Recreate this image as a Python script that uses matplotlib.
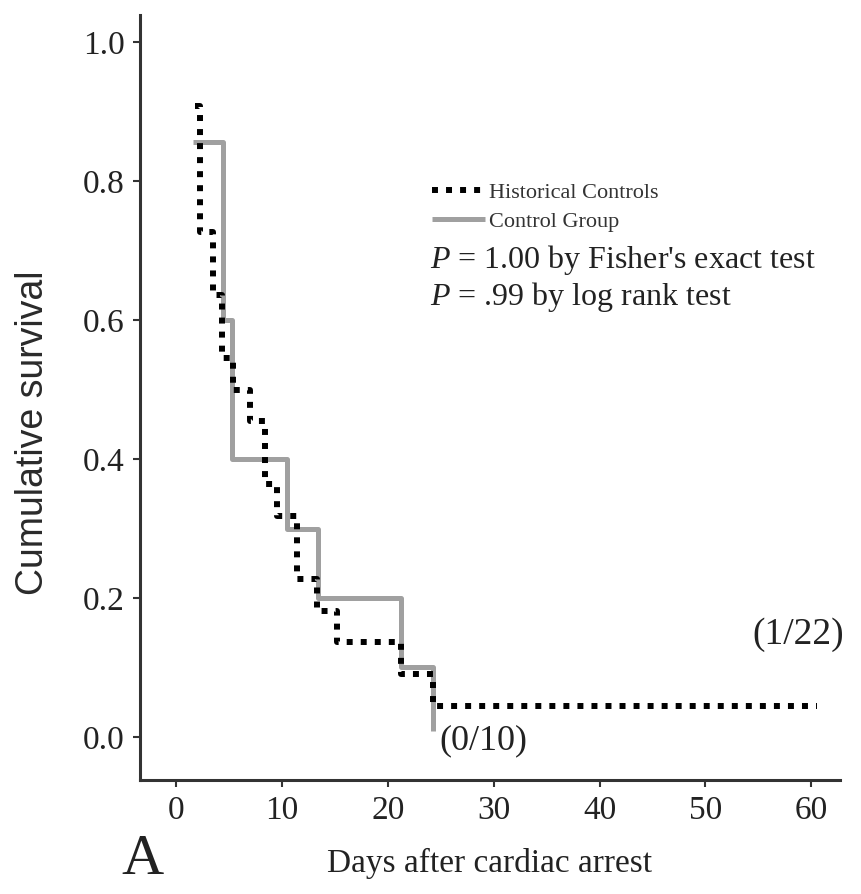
import matplotlib
matplotlib.use("Agg")
import matplotlib.pyplot as plt

# Data
hist_days = [1.8, 2.3, 3.5, 4.3, 5.4, 7.0, 8.4, 9.5, 11.4, 13.3, 15.2, 21.2, 24.3, 60.5]
hist_surv = [0.909, 0.727, 0.636, 0.545, 0.500, 0.455, 0.364, 0.318, 0.227, 0.182, 0.136, 0.091, 0.045, 0.045]

ctrl_days = [1.6, 4.4, 5.3, 10.45, 13.4, 21.2, 24.3]
ctrl_surv = [0.857, 0.600, 0.400, 0.300, 0.200, 0.100, 0.008]

x_ticks = [0, 10, 20, 30, 40, 50, 60]
y_ticks = [0.0, 0.2, 0.4, 0.6, 0.8, 1.0]
y_tick_labels = ["0.0", "0.2", "0.4", "0.6", "0.8", "1.0"]

series_labels = ["Historical Controls", "Control Group"]
p_texts = [r"$P$ = 1.00 by Fisher's exact test", r"$P$ = .99 by log rank test"]
end_labels = ["(1/22)", "(0/10)"]

plt.rcParams['font.family'] = ['Liberation Serif', 'DejaVu Serif']
plt.rcParams['mathtext.fontset'] = 'custom'
plt.rcParams['mathtext.it'] = 'Liberation Serif:italic'
plt.rcParams['mathtext.rm'] = 'Liberation Serif'

fig = plt.figure(figsize=(8.61, 8.94), dpi=100)
ax = fig.add_axes([0.1626, 0.1275, 0.8130, 0.8555])

grey = '#a0a0a0'
l_ctrl, = ax.step(ctrl_days, ctrl_surv, where='post', color=grey, lw=3.6,
                  solid_capstyle='butt', zorder=2)
l_hist, = ax.step(hist_days, hist_surv, where='post', color='black', lw=4.3,
                  linestyle=(0, (1, 1.35)), dash_capstyle='butt', zorder=3)

ax.set_xlim(-3.4, 62.7)
ax.set_ylim(-0.062, 1.039)

ax.set_xticks(x_ticks)
ax.set_xticklabels([str(t) for t in x_ticks], fontsize=24)
ax.set_yticks(y_ticks)
ax.set_yticklabels(y_tick_labels, fontsize=24)

for s in ['top', 'right']:
    ax.spines[s].set_visible(False)
for s in ['left', 'bottom']:
    ax.spines[s].set_color('#333333')
    ax.spines[s].set_linewidth(2.2)
ax.tick_params(axis='both', direction='out', length=5, width=1.5, color='#333333',
               labelcolor='#222222', pad=6)

ax.set_xlabel("Days after cardiac arrest", fontsize=24, labelpad=16, color='#222222')
fig.text(33 / 861, 1 - 433 / 894, "Cumulative survival", rotation=90,
         fontsize=27, family=['Liberation Sans', 'DejaVu Sans'],
         ha='center', va='center', color='#2a2a2a')

leg = ax.legend([l_hist, l_ctrl], series_labels, loc='upper left',
                bbox_to_anchor=(0.417, 0.781), frameon=False, fontsize=16,
                handlelength=2.4, handletextpad=0.15, labelspacing=0.35,
                borderaxespad=0, borderpad=0)
for t in leg.get_texts():
    t.set_color('#333333')

ax.text(0.415, 0.680, p_texts[0], transform=ax.transAxes, fontsize=23,
        va='center', ha='left', color='#222222')
ax.text(0.415, 0.632, p_texts[1], transform=ax.transAxes, fontsize=23,
        va='center', ha='left', color='#222222')

ax.text(54.4, 0.147, end_labels[0], fontsize=27, ha='left', va='center', color='#222222')
ax.text(24.9, -0.005, end_labels[1], fontsize=26, ha='left', va='center', color='#222222')

fig.text(142 / 861, 1 - 860 / 894, "A", fontsize=42, ha='center', va='center', color='#222222')

fig.savefig("out.png", dpi=100)
